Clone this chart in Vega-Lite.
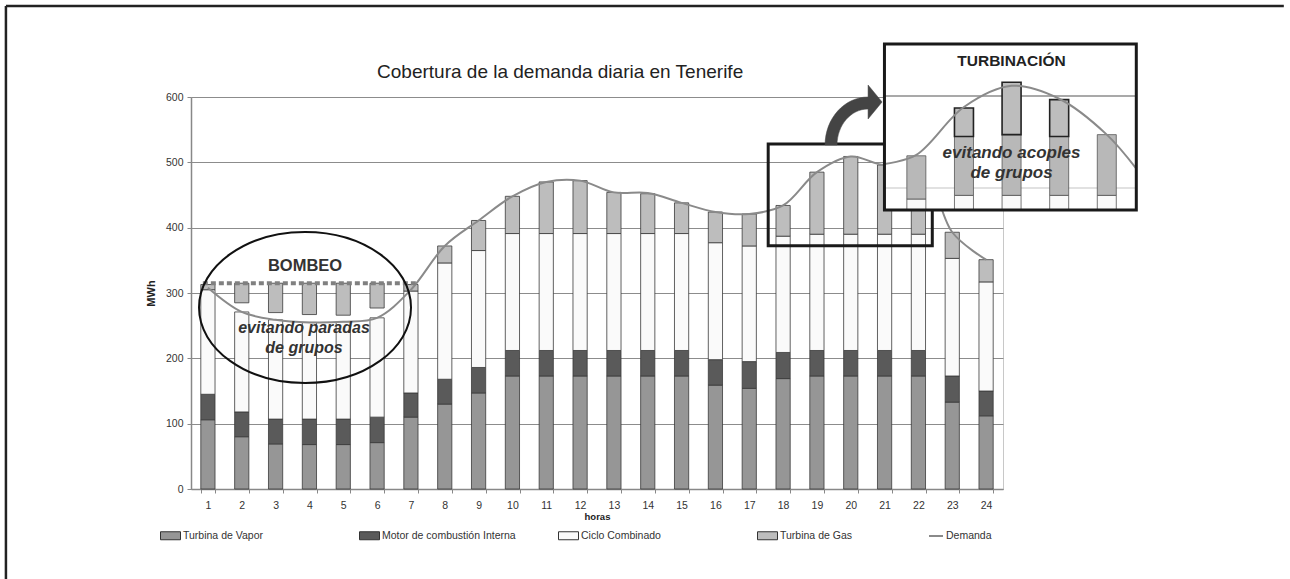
{
  "$schema": "https://vega.github.io/schema/vega-lite/v6.json",
  "autosize": {"type": "none"},
  "padding": {"left": 191, "top": 97, "right": 287, "bottom": 90},
  "width": 812,
  "height": 392,
  "background": "white",
  "config": {"view": {"stroke": "#c8c8c8"}, "font": "Liberation Sans"},
  "datasets": {
    "bars": [
      {"h":1,"s":"Turbina de Vapor","o":1,"v":106},{"h":1,"s":"Motor de combustión Interna","o":2,"v":39},{"h":1,"s":"Ciclo Combinado","o":3,"v":160},{"h":1,"s":"Turbina de Gas","o":4,"v":8},
      {"h":2,"s":"Turbina de Vapor","o":1,"v":80},{"h":2,"s":"Motor de combustión Interna","o":2,"v":38},{"h":2,"s":"Ciclo Combinado","o":3,"v":153},
      {"h":3,"s":"Turbina de Vapor","o":1,"v":69},{"h":3,"s":"Motor de combustión Interna","o":2,"v":38},{"h":3,"s":"Ciclo Combinado","o":3,"v":152},
      {"h":4,"s":"Turbina de Vapor","o":1,"v":68},{"h":4,"s":"Motor de combustión Interna","o":2,"v":39},{"h":4,"s":"Ciclo Combinado","o":3,"v":148},
      {"h":5,"s":"Turbina de Vapor","o":1,"v":68},{"h":5,"s":"Motor de combustión Interna","o":2,"v":39},{"h":5,"s":"Ciclo Combinado","o":3,"v":149},
      {"h":6,"s":"Turbina de Vapor","o":1,"v":71},{"h":6,"s":"Motor de combustión Interna","o":2,"v":39},{"h":6,"s":"Ciclo Combinado","o":3,"v":152},
      {"h":7,"s":"Turbina de Vapor","o":1,"v":110},{"h":7,"s":"Motor de combustión Interna","o":2,"v":37},{"h":7,"s":"Ciclo Combinado","o":3,"v":156},{"h":7,"s":"Turbina de Gas","o":4,"v":10},
      {"h":8,"s":"Turbina de Vapor","o":1,"v":130},{"h":8,"s":"Motor de combustión Interna","o":2,"v":38},{"h":8,"s":"Ciclo Combinado","o":3,"v":178},{"h":8,"s":"Turbina de Gas","o":4,"v":26},
      {"h":9,"s":"Turbina de Vapor","o":1,"v":147},{"h":9,"s":"Motor de combustión Interna","o":2,"v":39},{"h":9,"s":"Ciclo Combinado","o":3,"v":179},{"h":9,"s":"Turbina de Gas","o":4,"v":46},
      {"h":10,"s":"Turbina de Vapor","o":1,"v":173},{"h":10,"s":"Motor de combustión Interna","o":2,"v":39},{"h":10,"s":"Ciclo Combinado","o":3,"v":179},{"h":10,"s":"Turbina de Gas","o":4,"v":57},
      {"h":11,"s":"Turbina de Vapor","o":1,"v":173},{"h":11,"s":"Motor de combustión Interna","o":2,"v":39},{"h":11,"s":"Ciclo Combinado","o":3,"v":179},{"h":11,"s":"Turbina de Gas","o":4,"v":79},
      {"h":12,"s":"Turbina de Vapor","o":1,"v":173},{"h":12,"s":"Motor de combustión Interna","o":2,"v":39},{"h":12,"s":"Ciclo Combinado","o":3,"v":179},{"h":12,"s":"Turbina de Gas","o":4,"v":81},
      {"h":13,"s":"Turbina de Vapor","o":1,"v":173},{"h":13,"s":"Motor de combustión Interna","o":2,"v":39},{"h":13,"s":"Ciclo Combinado","o":3,"v":179},{"h":13,"s":"Turbina de Gas","o":4,"v":63},
      {"h":14,"s":"Turbina de Vapor","o":1,"v":173},{"h":14,"s":"Motor de combustión Interna","o":2,"v":39},{"h":14,"s":"Ciclo Combinado","o":3,"v":179},{"h":14,"s":"Turbina de Gas","o":4,"v":61},
      {"h":15,"s":"Turbina de Vapor","o":1,"v":173},{"h":15,"s":"Motor de combustión Interna","o":2,"v":39},{"h":15,"s":"Ciclo Combinado","o":3,"v":179},{"h":15,"s":"Turbina de Gas","o":4,"v":47},
      {"h":16,"s":"Turbina de Vapor","o":1,"v":159},{"h":16,"s":"Motor de combustión Interna","o":2,"v":39},{"h":16,"s":"Ciclo Combinado","o":3,"v":179},{"h":16,"s":"Turbina de Gas","o":4,"v":47},
      {"h":17,"s":"Turbina de Vapor","o":1,"v":154},{"h":17,"s":"Motor de combustión Interna","o":2,"v":41},{"h":17,"s":"Ciclo Combinado","o":3,"v":177},{"h":17,"s":"Turbina de Gas","o":4,"v":49},
      {"h":18,"s":"Turbina de Vapor","o":1,"v":169},{"h":18,"s":"Motor de combustión Interna","o":2,"v":40},{"h":18,"s":"Ciclo Combinado","o":3,"v":178},{"h":18,"s":"Turbina de Gas","o":4,"v":47},
      {"h":19,"s":"Turbina de Vapor","o":1,"v":173},{"h":19,"s":"Motor de combustión Interna","o":2,"v":39},{"h":19,"s":"Ciclo Combinado","o":3,"v":178},{"h":19,"s":"Turbina de Gas","o":4,"v":95},
      {"h":20,"s":"Turbina de Vapor","o":1,"v":173},{"h":20,"s":"Motor de combustión Interna","o":2,"v":39},{"h":20,"s":"Ciclo Combinado","o":3,"v":178},{"h":20,"s":"Turbina de Gas","o":4,"v":119},
      {"h":21,"s":"Turbina de Vapor","o":1,"v":173},{"h":21,"s":"Motor de combustión Interna","o":2,"v":39},{"h":21,"s":"Ciclo Combinado","o":3,"v":178},{"h":21,"s":"Turbina de Gas","o":4,"v":106},
      {"h":22,"s":"Turbina de Vapor","o":1,"v":173},{"h":22,"s":"Motor de combustión Interna","o":2,"v":39},{"h":22,"s":"Ciclo Combinado","o":3,"v":178},{"h":22,"s":"Turbina de Gas","o":4,"v":119},
      {"h":23,"s":"Turbina de Vapor","o":1,"v":133},{"h":23,"s":"Motor de combustión Interna","o":2,"v":40},{"h":23,"s":"Ciclo Combinado","o":3,"v":180},{"h":23,"s":"Turbina de Gas","o":4,"v":40},
      {"h":24,"s":"Turbina de Vapor","o":1,"v":112},{"h":24,"s":"Motor de combustión Interna","o":2,"v":38},{"h":24,"s":"Ciclo Combinado","o":3,"v":167},{"h":24,"s":"Turbina de Gas","o":4,"v":34}
    ],
    "bombeo": [
      {"h":2,"lo":285,"hi":315},{"h":3,"lo":270,"hi":315},{"h":4,"lo":267,"hi":315},{"h":5,"lo":266,"hi":315},{"h":6,"lo":277,"hi":315}
    ],
    "demand": [
      {"h":1,"d":308},{"h":2,"d":271},{"h":3,"d":259},{"h":4,"d":255},{"h":5,"d":256},{"h":6,"d":262},
      {"h":7,"d":305},{"h":8,"d":372},{"h":9,"d":411},{"h":10,"d":448},{"h":11,"d":470},{"h":12,"d":472},
      {"h":13,"d":454},{"h":14,"d":453},{"h":15,"d":438},{"h":16,"d":424},{"h":17,"d":421},{"h":18,"d":434},
      {"h":19,"d":485},{"h":20,"d":509},{"h":21,"d":496},{"h":22,"d":509},{"h":23,"d":393},{"h":24,"d":351}
    ],
    "insetBars": [
      {"ih":18,"lo":376,"hi":388,"k":"cc"},{"ih":19,"lo":376,"hi":392,"k":"cc"},{"ih":20,"lo":376,"hi":392,"k":"cc"},{"ih":21,"lo":376,"hi":392,"k":"cc"},{"ih":22,"lo":376,"hi":392,"k":"cc"},
      {"ih":18,"lo":388,"hi":435,"k":"gas"},{"ih":19,"lo":392,"hi":456,"k":"gas"},{"ih":20,"lo":392,"hi":458,"k":"gas"},{"ih":21,"lo":392,"hi":456,"k":"gas"},{"ih":22,"lo":392,"hi":458,"k":"gas"},
      {"ih":19,"lo":456,"hi":487,"k":"turb"},{"ih":20,"lo":458,"hi":515,"k":"turb"},{"ih":21,"lo":456,"hi":496,"k":"turb"}
    ],
    "insetLine": [
      {"ih":17.33,"d":426},{"ih":18,"d":436},{"ih":19,"d":488},{"ih":20,"d":511},{"ih":21,"d":497},{"ih":22,"d":458},{"ih":22.62,"d":421}
    ]
  },
  "layer": [
    {
      "layer": [
        {
          "data": {"name": "bars"},
          "mark": {"type": "bar", "stroke": "#3a3a3a", "strokeWidth": 0.8},
          "encoding": {
            "x": {"field": "h", "type": "ordinal",
              "scale": {"paddingInner": 0.58, "paddingOuter": 0.29},
              "axis": {"title": "horas", "titleFont": "Liberation Sans", "titleFontWeight": "bold", "titleFontSize": 9.5, "titleColor": "#222", "titlePadding": 1,
                "labelFont": "Liberation Sans", "labelFontSize": 10.5, "labelColor": "#333", "labelPadding": 7, "labelAngle": 0,
                "tickBand": "extent", "tickSize": 4, "tickColor": "#888", "domainColor": "#888", "domainWidth": 1.5, "grid": false}},
            "y": {"field": "v", "type": "quantitative", "stack": "zero",
              "scale": {"domain": [0, 600], "nice": false},
              "axis": {"title": "MWh", "values": [0, 100, 200, 300, 400, 500, 600], "grid": true, "gridColor": "#8c8c8c", "gridWidth": 1.2,
                "tickSize": 4, "tickColor": "#888", "domainColor": "#888", "domainWidth": 1.5,
                "labelFont": "Liberation Sans", "labelFontSize": 10.5, "labelColor": "#333", "labelPadding": 4,
                "titleFont": "Liberation Sans", "titleFontSize": 11, "titleFontWeight": "bold", "titleColor": "#222", "titlePadding": 9}},
            "color": {"field": "s", "type": "nominal",
              "scale": {"domain": ["Turbina de Vapor", "Motor de combustión Interna", "Ciclo Combinado", "Turbina de Gas"],
                        "range": ["#969696", "#5a5a5a", "#fafafa", "#bdbdbd"]},
              "legend": {"orient": "none", "legendX": -31, "legendY": 428, "direction": "horizontal", "columns": 4, "gridAlign": "all", "columnPadding": 40,
                "title": null, "padding": 0, "symbolSize": 400, "symbolType": "M-1,-0.4H1V0.4H-1Z",
                "labelFont": "Liberation Sans", "labelFontSize": 10.5, "labelColor": "#333", "labelOffset": 2,
                "symbolStrokeWidth": 1, "symbolStrokeColor": "#333333"}},
            "order": {"field": "o", "type": "quantitative"}
          }
        },
        {
          "data": {"name": "bombeo"},
          "mark": {"type": "bar", "fill": "#bdbdbd", "stroke": "#3a3a3a", "strokeWidth": 0.8},
          "encoding": {
            "x": {"field": "h", "type": "ordinal"},
            "y": {"field": "lo", "type": "quantitative"},
            "y2": {"field": "hi"}
          }
        },
        {
          "data": {"name": "demand"},
          "mark": {"type": "line", "interpolate": "catmull-rom", "strokeWidth": 2},
          "encoding": {
            "x": {"field": "h", "type": "ordinal"},
            "y": {"field": "d", "type": "quantitative"},
            "stroke": {"datum": "Demanda", "scale": {"domain": ["Demanda"], "range": ["#8a8a8a"]},
              "legend": {"orient": "none", "legendX": 737, "legendY": 431, "title": null, "padding": 0,
                "symbolType": "stroke", "symbolSize": 196, "symbolStrokeWidth": 2,
                "labelFont": "Liberation Sans", "labelFontSize": 10.5, "labelColor": "#333", "labelOffset": 2}}
          }
        }
      ]
    },
    {
      "layer": [
        {
          "data": {"values": [{"a": -4.97, "b": 32.8, "y": 739.3}]},
          "mark": {"type": "rule", "stroke": "#222", "strokeWidth": 2.5},
          "encoding": {
            "x": {"field": "a", "type": "quantitative", "scale": {"domain": [0.5, 24.5], "nice": false, "zero": false}, "axis": null},
            "x2": {"field": "b"},
            "y": {"field": "y", "type": "quantitative", "scale": {"domain": [0, 600], "nice": false, "zero": false}, "axis": null}
          }
        },
        {
          "data": {"values": [{"a": -4.97, "y": 739.3, "y2": -137.8}]},
          "mark": {"type": "rule", "stroke": "#222", "strokeWidth": 2.5},
          "encoding": {
            "x": {"field": "a", "type": "quantitative"},
            "y": {"field": "y", "type": "quantitative"},
            "y2": {"field": "y2"}
          }
        },
        {
          "data": {"values": [{"a": 11.41, "y": 638.3, "t": "Cobertura de la demanda diaria en Tenerife"}]},
          "mark": {"type": "text", "font": "Liberation Sans", "fontSize": 19, "fill": "#222", "align": "center", "baseline": "middle"},
          "encoding": {
            "x": {"field": "a", "type": "quantitative"},
            "y": {"field": "y", "type": "quantitative"},
            "text": {"field": "t"}
          }
        },
        {
          "data": {"values": [{"a": 0.85, "b": 7.18, "y": 315}]},
          "mark": {"type": "rule", "stroke": "#808080", "strokeWidth": 4, "strokeDash": [5, 3]},
          "encoding": {
            "x": {"field": "a", "type": "quantitative"},
            "x2": {"field": "b"},
            "y": {"field": "y", "type": "quantitative"}
          }
        },
        {
          "data": {"values": [{"a": 3.87, "y": 277.8}]},
          "mark": {"type": "point", "shape": "M-106 0A106 75.5 0 0 1 106 0A106 75.5 0 0 1 -106 0Z", "size": 4, "filled": false, "stroke": "#111", "strokeWidth": 2, "opacity": 1},
          "encoding": {
            "x": {"field": "a", "type": "quantitative"},
            "y": {"field": "y", "type": "quantitative"}
          }
        },
        {
          "data": {"values": [{"a": 3.87, "y": 341.5, "t": "BOMBEO"}]},
          "mark": {"type": "text", "font": "Liberation Sans", "fontSize": 16.5, "fontWeight": "bold", "fill": "#333", "align": "center", "baseline": "middle"},
          "encoding": {
            "x": {"field": "a", "type": "quantitative"},
            "y": {"field": "y", "type": "quantitative"},
            "text": {"field": "t"}
          }
        },
        {
          "data": {"values": [{"a": 3.84, "y": 246.4, "t": "evitando paradas"}, {"a": 3.84, "y": 216.3, "t": "de grupos"}]},
          "mark": {"type": "text", "font": "Liberation Sans", "fontSize": 16, "fontWeight": "bold", "fontStyle": "italic", "fill": "#333", "align": "center", "baseline": "middle"},
          "encoding": {
            "x": {"field": "a", "type": "quantitative"},
            "y": {"field": "y", "type": "quantitative"},
            "text": {"field": "t"}
          }
        },
        {
          "data": {"values": [{"a": 17.56, "b": 22.41, "y": 372.4, "y2": 528}]},
          "mark": {"type": "rect", "fill": "transparent", "stroke": "#1a1a1a", "strokeWidth": 3},
          "encoding": {
            "x": {"field": "a", "type": "quantitative"},
            "x2": {"field": "b"},
            "y": {"field": "y", "type": "quantitative"},
            "y2": {"field": "y2"}
          }
        },
        {
          "data": {"values": [{"a": 19.98, "y": 564.8}]},
          "mark": {"type": "point", "shape": "M-25 25A43 48 0 0 1 18 -23L18 -35L32 -18L18 -1L18 -11A31 36 0 0 0 -13 25Z", "size": 4, "filled": true, "fill": "#444", "stroke": "#444", "strokeWidth": 0.5, "opacity": 1},
          "encoding": {
            "x": {"field": "a", "type": "quantitative"},
            "y": {"field": "y", "type": "quantitative"}
          }
        }
      ]
    },
    {
      "layer": [
        {
          "data": {"values": [{"a": 17.33, "b": 22.62, "y": 376.1, "y2": 556.5}]},
          "mark": {"type": "rect", "fill": "white", "stroke": null},
          "encoding": {
            "x": {"field": "a", "type": "quantitative", "scale": {"domain": [2.869, 19.715], "nice": false, "zero": false}, "axis": null},
            "x2": {"field": "b"},
            "y": {"field": "y", "type": "quantitative", "scale": {"domain": [72.8, 498.9], "nice": false, "zero": false}, "axis": null},
            "y2": {"field": "y2"}
          }
        },
        {
          "data": {"values": [{"a": 17.33, "b": 22.62, "y": 400}]},
          "mark": {"type": "rule", "stroke": "#c4c4c4", "strokeWidth": 1.2},
          "encoding": {
            "x": {"field": "a", "type": "quantitative"},
            "x2": {"field": "b"},
            "y": {"field": "y", "type": "quantitative"}
          }
        },
        {
          "data": {"values": [{"a": 17.33, "b": 22.62, "y": 500}]},
          "mark": {"type": "rule", "stroke": "#8c8c8c", "strokeWidth": 1.3},
          "encoding": {
            "x": {"field": "a", "type": "quantitative"},
            "x2": {"field": "b"},
            "y": {"field": "y", "type": "quantitative"}
          }
        },
        {
          "data": {"name": "insetBars"},
          "transform": [{"filter": "datum.k === 'cc'"}],
          "mark": {"type": "bar", "width": 19, "fill": "#fafafa", "stroke": "#555", "strokeWidth": 0.8},
          "encoding": {
            "x": {"field": "ih", "type": "quantitative"},
            "y": {"field": "lo", "type": "quantitative"},
            "y2": {"field": "hi"}
          }
        },
        {
          "data": {"name": "insetBars"},
          "transform": [{"filter": "datum.k === 'gas'"}],
          "mark": {"type": "bar", "width": 19, "fill": "#b8b8b8", "stroke": "#555", "strokeWidth": 0.8},
          "encoding": {
            "x": {"field": "ih", "type": "quantitative"},
            "y": {"field": "lo", "type": "quantitative"},
            "y2": {"field": "hi"}
          }
        },
        {
          "data": {"name": "insetBars"},
          "transform": [{"filter": "datum.k === 'turb'"}],
          "mark": {"type": "bar", "width": 19, "fill": "#bdbdbd", "stroke": "#222", "strokeWidth": 1.6},
          "encoding": {
            "x": {"field": "ih", "type": "quantitative"},
            "y": {"field": "lo", "type": "quantitative"},
            "y2": {"field": "hi"}
          }
        },
        {
          "data": {"name": "insetLine"},
          "mark": {"type": "line", "interpolate": "catmull-rom", "stroke": "#8a8a8a", "strokeWidth": 2},
          "encoding": {
            "x": {"field": "ih", "type": "quantitative"},
            "y": {"field": "d", "type": "quantitative"}
          }
        },
        {
          "data": {"values": [{"a": 20.0, "y": 538.4, "t": "TURBINACIÓN"}]},
          "mark": {"type": "text", "font": "Liberation Sans", "fontSize": 15.5, "fontWeight": "bold", "fill": "#222", "align": "center", "baseline": "middle"},
          "encoding": {
            "x": {"field": "a", "type": "quantitative"},
            "y": {"field": "y", "type": "quantitative"},
            "text": {"field": "t"}
          }
        },
        {
          "data": {"values": [{"a": 20.0, "y": 437.7, "t": "evitando acoples"}, {"a": 20.0, "y": 416.6, "t": "de grupos"}]},
          "mark": {"type": "text", "font": "Liberation Sans", "fontSize": 17, "fontWeight": "bold", "fontStyle": "italic", "fill": "#333", "align": "center", "baseline": "middle"},
          "encoding": {
            "x": {"field": "a", "type": "quantitative"},
            "y": {"field": "y", "type": "quantitative"},
            "text": {"field": "t"}
          }
        },
        {
          "data": {"values": [{"a": 17.33, "b": 22.62, "y": 376.1, "y2": 556.5}]},
          "mark": {"type": "rect", "fill": "transparent", "stroke": "#1a1a1a", "strokeWidth": 3},
          "encoding": {
            "x": {"field": "a", "type": "quantitative"},
            "x2": {"field": "b"},
            "y": {"field": "y", "type": "quantitative"},
            "y2": {"field": "y2"}
          }
        }
      ]
    }
  ],
  "resolve": {"scale": {"x": "independent", "y": "independent"}}
}
